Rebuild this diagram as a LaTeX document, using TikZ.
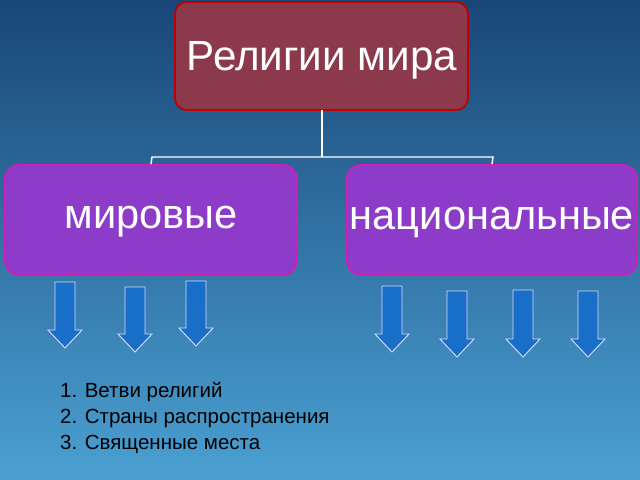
\documentclass[tikz,border=0pt]{standalone}
\usepackage{fontspec}
\setmainfont{Liberation Sans}
\begin{document}
\begin{tikzpicture}[x=0.03cm,y=-0.03cm,
  topbox/.style={draw=red!75!black,line width=1.5pt,fill={rgb,255:red,140;green,58;blue,75},rounded corners=10pt,text=white},
  subbox/.style={draw={rgb,255:red,210;green,30;blue,180},line width=1.5pt,fill={rgb,255:red,140;green,60;blue,200},rounded corners=12pt,text=white},
  conn/.style={draw=white,line width=1.2pt},
  lbl/.style={text=white,font=\fontsize{35.5}{38}\selectfont},
  darr/.style={fill={rgb,255:red,25;green,110;blue,200},draw=white!85!blue,line width=0.8pt}]
\shade[top color={rgb,255:red,25;green,70;blue,120},bottom color={rgb,255:red,75;green,160;blue,210}] (0,0) rectangle (640,480);
\useasboundingbox (0,0) rectangle (640,480);
\draw[topbox] (175,2) rectangle (468,110);
\node[text=white,font=\fontsize{36}{40}\selectfont] (top) at (322,60) {Религии мира};
\node[subbox,minimum width=292*0.03cm,minimum height=110*0.03cm] (mir) at (151,220) {};
\node[subbox,minimum width=290*0.03cm,minimum height=110*0.03cm] (nat) at (492,220) {};
\node[lbl] (mirt) at (151,222) {мировые};
\node[lbl] (natt) at (492,222) {национальные};
\coordinate (tb) at (322,110);
\coordinate (j) at (322,157);
\draw[conn] (tb) -- (j);
\draw[conn] (mir.north) -- (152,157) -- (493,157) -- (nat.north);
\foreach \x/\a/\b in {65/282/348,135/287/352,196/281/346,392/286/352,457/291/357,523/290/357,588/291/357}{
  \draw[darr] (\x-10,\a) -- (\x+10,\a) -- (\x+10,\b-18) -- (\x+17,\b-18) -- (\x,\b) -- (\x-17,\b-18) -- (\x-10,\b-18) -- cycle;
}
\node[anchor=west,align=left,font=\fontsize{17.5}{22}\selectfont,text=black] (list) at (56,418) {1. Ветви религий\\2. Страны распространения\\3. Священные места};
\end{tikzpicture}
\end{document}
